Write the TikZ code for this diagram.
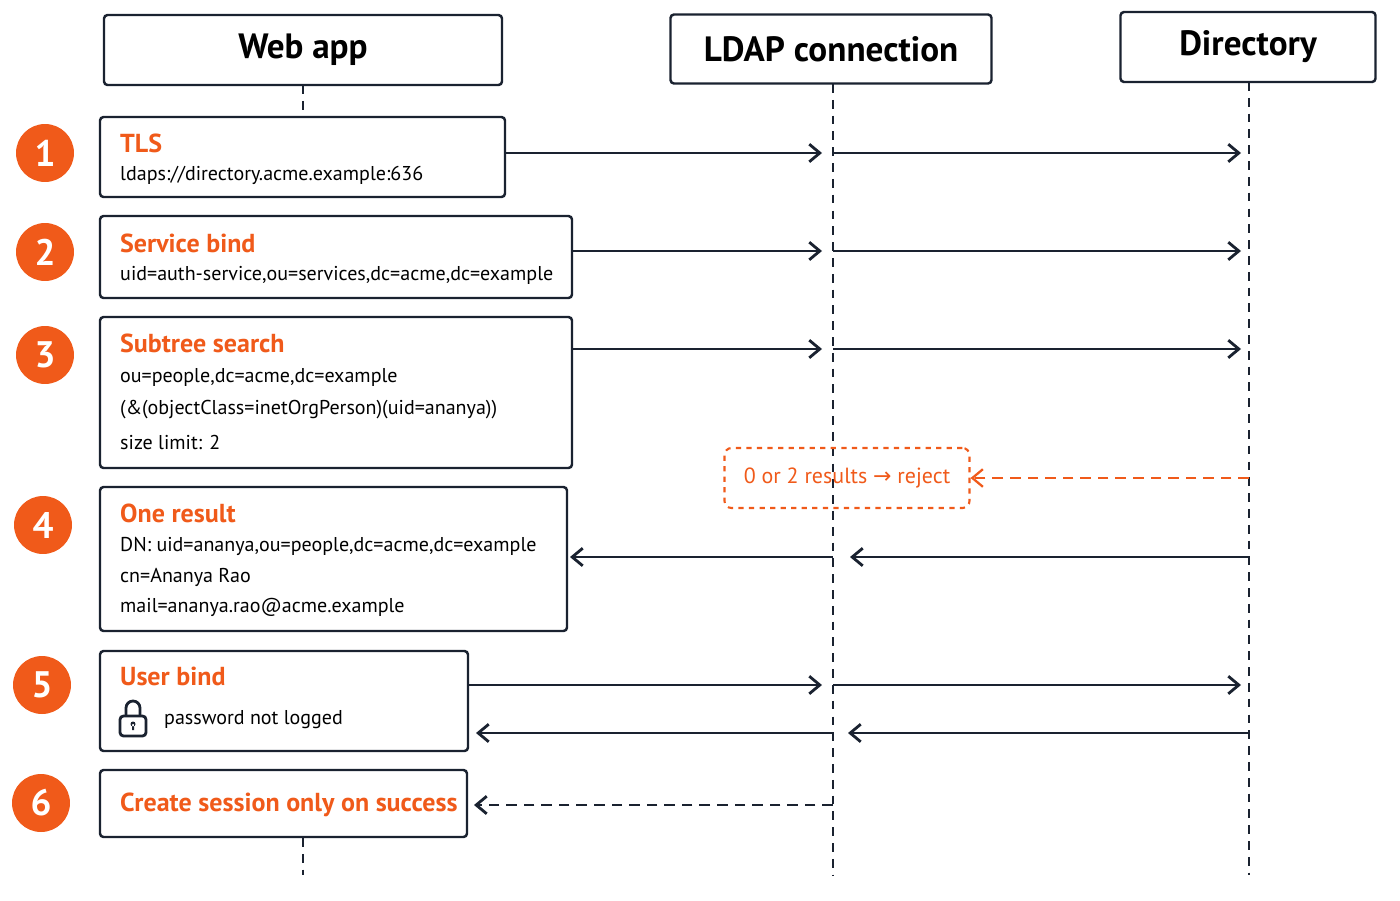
\documentclass[tikz,border=0pt]{standalone}
\usepackage{fontspec}
\setmainfont{PT Sans}
\newfontfamily\symfont{DejaVu Sans}
\usetikzlibrary{arrows.meta,positioning}
\definecolor{accent}{HTML}{F05A1A}
\definecolor{ink}{HTML}{1A2230}
\tikzset{
  head/.style={draw=ink,line width=1.4pt,rounded corners=2pt,font=\fontsize{20}{24}\selectfont\bfseries,text=black},
  badge/.style={circle,fill=accent,text=white,minimum size=33pt,font=\fontsize{21}{24}\selectfont\bfseries},
  ttl/.style={font=\fontsize{14.8}{18}\selectfont\bfseries,text=accent},
  msg/.style={line width=1.6pt,draw=ink,-{Straight Barb[length=6pt,width=10pt]}},
  life/.style={draw=ink,line width=1.1pt,dash pattern=on 5pt off 4pt},
}
\begin{document}
\begin{tikzpicture}[x=0.02cm,y=-0.02cm,font=\fontsize{11.4}{14}\selectfont]
\useasboundingbox (0,0) rectangle (1400,900);
% heads
\node[head,minimum width=398*0.02cm,minimum height=70*0.02cm] (web) at (303,50) {Web app};
\node[head,minimum width=321*0.02cm,minimum height=69*0.02cm] (ldap) at (831,49) {LDAP connection};
\node[head,minimum width=255*0.02cm,minimum height=70*0.02cm] (dir) at (1248,47) {Directory};
% life lines
\coordinate (wtop) at (303,85); \coordinate (w1) at (303,117);
\coordinate (w6) at (303,838); \coordinate (wend) at (303,875);
\coordinate (lend) at (833,875); \coordinate (dend) at (1249,875);
\draw[life] (wtop) -- (w1);
\draw[life] (w6) -- (wend);
\draw[life] (833,84) -- (lend);
\draw[life] (1249,82) -- (dend);
% step boxes
\foreach \name/\y/\w/\h in {sa/117/405/80, sb/216/472/82, sc/317/472/151, sd/487/467/144, se/651/368/100, sf/770/367/67}
  \draw[draw=ink,line width=1.4pt,rounded corners=2pt,fill=white] (100,\y) rectangle ++(\w,\h) coordinate (\name);
\foreach \n/\x/\y in {1/45/153, 2/45/252, 3/45/355, 4/43/525, 5/42/685, 6/41/803}
  \node[badge] (b\n) at (\x,\y) {\n};
% texts
\node[ttl,anchor=west] (t1) at (114,143) {TLS};
\node[anchor=west] at (114,175) {ldaps://directory.acme.example:636};
\node[ttl,anchor=west] (t2) at (114,243) {Service bind};
\node[anchor=west] at (114,275) {uid=auth-service,ou=services,dc=acme,dc=example};
\node[ttl,anchor=west] (t3) at (114,343) {Subtree search};
\node[anchor=west] at (114,377) {ou=people,dc=acme,dc=example};
\node[anchor=west] at (114,410) {(\&(objectClass=inetOrgPerson)(uid=ananya))};
\node[anchor=west] at (114,442) {size limit: 2};
\node[ttl,anchor=west] (t4) at (114,513) {One result};
\node[anchor=west] at (114,546) {DN: uid=ananya,ou=people,dc=acme,dc=example};
\node[anchor=west] at (114,577) {cn=Ananya Rao};
\node[anchor=west] at (114,607) {mail=ananya.rao@acme.example};
\node[ttl,anchor=west] (t5) at (114,676) {User bind};
\node[anchor=west] at (158,720) {password not logged};
\node[ttl,anchor=west] (t6) at (114,805) {Create session only on success};
% lock
\draw[ink,line width=1.6pt] (126,716) -- (126,708) arc[start angle=180,end angle=360,radius=7] -- (140,716);
\draw[ink,line width=1.6pt,fill=white,rounded corners=2pt] (120,716) rectangle (146,736);
\fill[ink] (133,724) circle (2.5) (132,724) rectangle (134,730);
% reject
\node[draw=accent,dashed,line width=1.2pt,rounded corners=4pt,minimum width=245*0.02cm,minimum height=60*0.02cm,text=accent,font=\fontsize{12.5}{15}\selectfont] (rej) at (847,478) {0 or 2 results {\symfont →} reject};
\coordinate (d4r) at (1249,478);
\draw[accent,line width=1.3pt,dash pattern=on 6pt off 4pt,-{Straight Barb[length=6pt,width=10pt]}] (d4r) -- (rej.east);
% messages
\foreach \y/\xa in {153/505, 251/572, 349/572, 685/468} {
  \draw[msg] (\xa,\y) -- (822,\y);
  \draw[msg] (833,\y) -- (1241,\y);
}
\draw[msg] (1249,557) -- (850,557);
\draw[msg] (833,557) -- (570,557);
\draw[msg] (1249,733) -- (848,733);
\draw[msg] (833,733) -- (476,733);
\draw[msg,dash pattern=on 6pt off 4pt] (833,805) -- (474,805);
\end{tikzpicture}
\end{document}
